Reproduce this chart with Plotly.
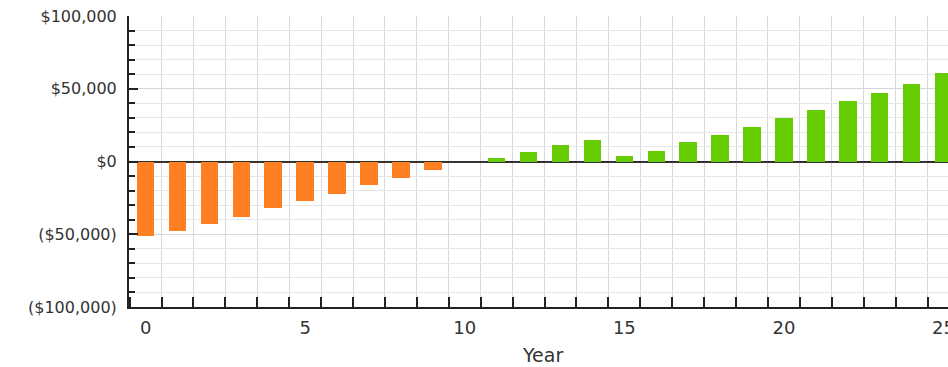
import plotly.graph_objects as go

years = list(range(0, 26))
cash_flow = [-51400, -48000, -43000, -38100, -32200, -27400, -22300, -16200, -11500, -5600,
             0, 2600, 6300, 11300, 14800, 4000, 7400, 13600, 18400, 23500,
             29700, 35600, 41400, 47300, 53500, 60800]
y_tick_vals = [-100000, -50000, 0, 50000, 100000]
y_tick_text = ["($100,000)", "($50,000)", "$0", "$50,000", "$100,000"]
x_tick_vals = [0, 5, 10, 15, 20, 25]
x_title = "Year"

NEG = "#FF8022"
POS = "#66CC00"
colors = [NEG if v < 0 else POS for v in cash_flow]

fig = go.Figure(go.Bar(
    x=years, y=cash_flow, width=0.55,
    marker=dict(color=colors, line=dict(width=0)),
    showlegend=False,
    cliponaxis=True,
))

fig.update_layout(
    width=948, height=367,
    margin=dict(l=129, r=0, t=16, b=60, autoexpand=False),
    paper_bgcolor="white", plot_bgcolor="white",
    font=dict(family="DejaVu Sans", color="#333333"),
    bargap=0,
)

fig.update_yaxes(
    range=[-100000, 100000], automargin=False,
    tickmode="array", tickvals=y_tick_vals, ticktext=y_tick_text,
    ticks="inside", ticklen=9, tickwidth=2, tickcolor="#222222",
    tickfont=dict(size=16, color="#333333"),
    showgrid=True, gridcolor="#d6d6dc", gridwidth=1,
    minor=dict(dtick=10000, tick0=0, ticks="inside", ticklen=6, tickwidth=2,
               tickcolor="#222222", showgrid=True, gridcolor="#e6e6ea", gridwidth=1),
    showline=True, linecolor="#222222", linewidth=2,
    zeroline=True, zerolinecolor="#333333", zerolinewidth=2,
    ticklabelstandoff=7,
)

fig.update_xaxes(
    range=[-0.52, 25.14], automargin=False,
    tickmode="array", tickvals=x_tick_vals,
    ticks="", tickfont=dict(size=18, color="#333333"),
    ticklabeloverflow="allow",
    showgrid=False,
    minor=dict(tickvals=[k + 0.5 for k in range(-1, 26)], ticks="inside", ticklen=10,
               tickwidth=2, tickcolor="#222222", showgrid=True, gridcolor="#d8d8de", gridwidth=1),
    showline=True, linecolor="#222222", linewidth=2,
    zeroline=False,
    ticklabelstandoff=3,
)

fig.add_annotation(
    text=x_title, xref="paper", yref="paper", x=(542 - 129) / 819, y=-(355 - 307) / 291,
    xanchor="center", yanchor="middle", showarrow=False,
    font=dict(size=19, color="#333333"),
)

fig.write_html(
    "out.html",
    config={"displayModeBar": False},
    post_script="document.body.style.margin='0';document.body.style.overflow='hidden';",
)
